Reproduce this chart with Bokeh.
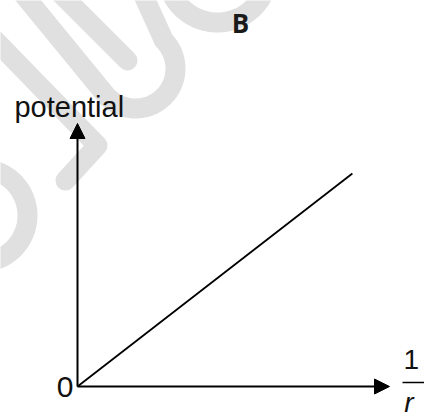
import numpy as np
from bokeh.plotting import figure
from bokeh.models import Range1d, Arrow, NormalHead
from bokeh.core.properties import value
from bokeh.embed import file_html
from bokeh.resources import INLINE

# ---- chart data (normalised units: axis length = 1) ----
inv_r = [0.0, 0.881]          # 1/r
potential = [0.0, 0.810]      # potential (straight line through origin)
x_axis_end = 1.0
y_axis_end = 1.0
title_text = "B"
y_label = "potential"
origin_label = "0"
x_label_num = "1"
x_label_den = "r"

# ---- layout ----
W, H = 424, 418
OX, OY = 77, 386     # origin inside canvas (px from left, px from top)
SX, SY = 312, 263    # px per unit along x and y

p = figure(width=W, height=H, output_backend="svg", toolbar_location=None,
           x_range=Range1d(-OX / SX, (W - OX) / SX),
           y_range=Range1d(-(H - OY) / SY, OY / SY),
           x_axis_location=None, y_axis_location=None,
           min_border=0, background_fill_color="white", border_fill_color="white")
p.grid.visible = False
p.outline_line_color = None

def px(X, Y):
    """canvas pixel -> data units"""
    return (np.asarray(X, float) - OX) / SX, (OY - np.asarray(Y, float)) / SY

# ---- faint watermark (decoration) ----
WM = "#e0e0e0"
WMW = 20

def arc_pts(cx, cy, r, a0, a1, n=40):
    t = np.radians(np.linspace(a0, a1, n))
    return cx + r * np.cos(t), cy + r * np.sin(t)

wm_paths = []
# band from left edge through "potential", turning at a corner
wm_paths.append(([-10, 97, 65], [35, 145, 180]))
# U-shape: arm 2 -> bottom arc -> arm 1
ax, ay = arc_pts(135, 68, 40, 135, -45)
wm_paths.append((np.r_[18, ax, 143], np.r_[-12, ay, -5]))
# middle stroke
wm_paths.append(([60, 127], [-7, 60]))
# arc near the B
bx, by = arc_pts(217, -29, 51, 160, 20)
wm_paths.append((bx, by))
# arc at left edge
lx, ly = arc_pts(-20, 215, 47, -70, 70)
wm_paths.append((lx, ly))

for X, Y in wm_paths:
    xs, ys = px(X, Y)
    p.line(xs, ys, line_color=WM, line_width=WMW, line_cap="round", line_join="round")

# ---- axes with arrows ----
head_x = NormalHead(size=15, fill_color="black", line_color="black", line_width=1)
head_y = NormalHead(size=15, fill_color="black", line_color="black", line_width=1)
p.add_layout(Arrow(x_start=0, y_start=0, x_end=x_axis_end, y_end=0, end=head_x,
                   line_color="black", line_width=2))
p.add_layout(Arrow(x_start=0, y_start=0, x_end=0, y_end=y_axis_end, end=head_y,
                   line_color="black", line_width=2))

# ---- data line ----
p.line(inv_r, potential, line_color="black", line_width=1.8)

# ---- texts ----
F = value("Liberation Sans")
DY = 0.038
p.text(x=[-0.202], y=[1.0266 + DY], text=[y_label], text_font=F, text_font_size="29px",
       text_color="#111111", text_align="left", text_baseline="alphabetic")
p.text(x=[-0.0128], y=[-0.0418 + DY], text=[origin_label], text_font=F, text_font_size="30px",
       text_color="#111111", text_align="right", text_baseline="alphabetic")
p.text(x=[1.0449], y=[0.0646 + DY], text=[x_label_num], text_font=F, text_font_size="28px",
       text_color="#111111", text_align="left", text_baseline="alphabetic")
p.line([1.0417, 1.13], [0.0152, 0.0152], line_color="black", line_width=1.5)
p.text(x=[1.047], y=[-0.099 + DY], text=[x_label_den], text_font=F, text_font_size="28px",
       text_font_style="italic", text_color="#111111", text_align="left",
       text_baseline="alphabetic")
p.text(x=[0.494], y=[1.346 + DY], text=[title_text], text_font=value("Open Sans"),
       text_font_size="26px", text_font_style="bold", text_color="#1a1a1a",
       text_align="left", text_baseline="alphabetic")

open("out.html", "w").write(file_html(p, INLINE))
